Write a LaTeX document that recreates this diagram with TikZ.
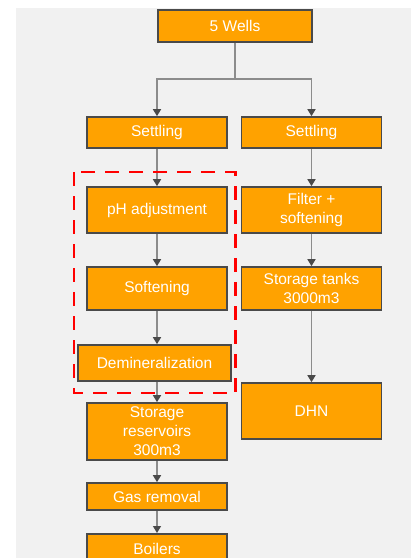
\documentclass[tikz,border=0pt]{standalone}
\usepackage{fontspec}
\setmainfont{Liberation Sans}
\usetikzlibrary{arrows.meta}

\definecolor{boxfill}{HTML}{FFA200}
\definecolor{boxline}{HTML}{4A4A4A}
\definecolor{flowline}{HTML}{8C8C8C}
\definecolor{bggray}{HTML}{F1F1F1}

\tikzset{
  stage/.style={draw=boxline, line width=1.6pt, fill=boxfill, text=white,
    minimum width=140pt, align=center, inner sep=1pt,
    font=\fontsize{15.5}{19}\selectfont},
  flow/.style={draw=flowline, line width=1.3pt,
    -{Triangle[width=8pt,length=7pt,color=boxline]}}
}

\begin{document}
\begin{tikzpicture}[x=1pt,y=-1pt]
        \clip (0,0) rectangle (416,558);
        \useasboundingbox (0,0) rectangle (416,558);
        \fill [bggray] (16,8) rectangle (411,558);

        % left line
        \node [stage, minimum width=154pt, minimum height=32pt] (wells) at(235,26) {5 Wells};
        \node [stage, minimum height=31pt] (setL) at(157,132.5) {Settling};
        \node [stage, minimum height=46pt] (ph) at(157,210) {pH adjustment};
        \node [stage, minimum height=43pt] (soft) at(157,288.5) {Softening};
        \node [stage, minimum width=153pt, minimum height=36pt] (demin) at(154.5,363) {Demineralization};
        \node [stage, minimum height=57pt] (res) at(157,431.5) {Storage\\reservoirs\\300m3};
        \node [stage, minimum height=27pt] (gas) at(157,496.5) {Gas removal};
        \node [stage, minimum height=30pt, anchor=north] (boil) at(157,533) {Boilers};

        % right line
        \node [stage, minimum height=31pt] (setR) at(311.5,132.5) {Settling};
        \node [stage, minimum height=46pt] (filt) at(311.5,210) {Filter +\\softening};
        \node [stage, minimum height=43pt] (tanks) at(311.5,288.5) {Storage tanks\\3000m3};
        \node [stage, minimum height=56pt] (dhn) at(311.5,411) {DHN};

        \coordinate (split) at(235,79);
        \draw [draw=flowline, line width=1.3pt] (wells.south) -- (split);
        \draw [flow] (split) -| (setL.north);
        \draw [flow] (split) -| (setR.north);

        \draw [flow] (setL) -- (ph);
        \draw [flow] (ph) -- (soft);
        \draw [flow] (soft.south) -- (soft.south |- demin.north);
        \draw [flow] (demin.south -| res.north) -- (res.north);
        \draw [flow] (res) -- (gas);
        \draw [flow] (gas) -- (boil);

        \draw [flow] (setR) -- (filt);
        \draw [flow] (filt) -- (tanks);
        \draw [flow] (tanks) -- (dhn);

        % demineralization plant
        \draw [red, line width=2.6pt, dash pattern=on 14pt off 10pt] (74,172) rectangle (235.5,393);
    \end{tikzpicture}
\end{document}
